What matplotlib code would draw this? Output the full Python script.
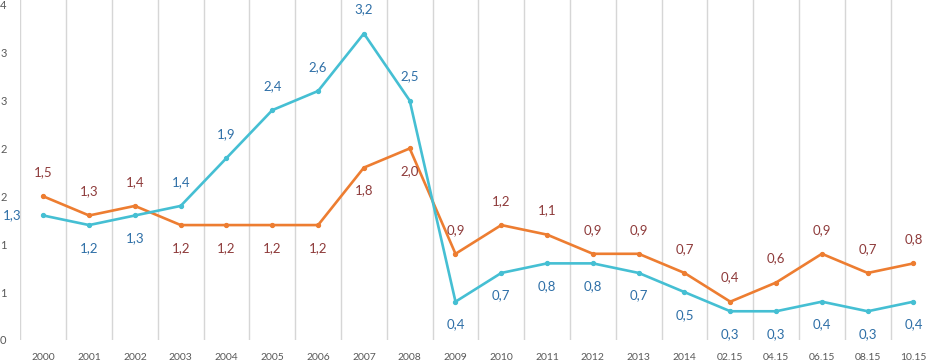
import matplotlib
matplotlib.use("Agg")
import matplotlib.pyplot as plt
from matplotlib.ticker import FixedLocator

categories = ["2000", "2001", "2002", "2003", "2004", "2005", "2006", "2007", "2008", "2009",
              "2010", "2011", "2012", "2013", "2014", "02.15", "04.15", "06.15", "08.15", "10.15"]
orange_vals = [1.5, 1.3, 1.4, 1.2, 1.2, 1.2, 1.2, 1.8, 2.0, 0.9,
               1.2, 1.1, 0.9, 0.9, 0.7, 0.4, 0.6, 0.9, 0.7, 0.8]
cyan_vals = [1.3, 1.2, 1.3, 1.4, 1.9, 2.4, 2.6, 3.2, 2.5, 0.4,
             0.7, 0.8, 0.8, 0.7, 0.5, 0.3, 0.3, 0.4, 0.3, 0.4]
# label positions: 'a' above, 'b' below, 'l' left
orange_pos = ["a", "a", "a", "b", "b", "b", "b", "b", "b", "a",
              "a", "a", "a", "a", "a", "a", "a", "a", "a", "a"]
cyan_pos = ["l", "b", "b", "a", "a", "a", "a", "a", "a", "b",
            "b", "b", "b", "b", "b", "b", "b", "b", "b", "b"]
ytick_vals = [0, 0.5, 1, 1.5, 2, 2.5, 3, 3.5]
ytick_labels = ["0", "1", "1", "2", "2", "3", "3", "4"]

plt.rcParams["font.family"] = ["Lato", "DejaVu Sans"]

W, H = 928, 360
fig = plt.figure(figsize=(W / 100, H / 100), dpi=100)
left_px, right_px = 20.4, 936.4
bottom_px, top_px = 340, 0
ax = fig.add_axes([left_px / W, (H - bottom_px) / H, (right_px - left_px) / W, (bottom_px - top_px) / H])

x = list(range(len(categories)))
ORANGE = "#ED7D31"
CYAN = "#45BFD3"
ORANGE_LBL = "#8E3B3B"
CYAN_LBL = "#2E6FA7"

ax.plot(x, orange_vals, color=ORANGE, lw=1.9, marker="o", ms=2.8, zorder=3)
ax.plot(x, cyan_vals, color=CYAN, lw=1.9, marker="o", ms=2.8, zorder=4)

def fmt(v):
    return f"{v:.1f}".replace(".", ",")

def label(xi, v, pos, col):
    if pos == "a":
        off, ha, va = (0, 13), "center", "bottom"
    elif pos == "b":
        off, ha, va = (0, -12), "center", "top"
    else:
        off, ha, va = (-16, 0), "right", "center"
    ax.annotate(fmt(v), (xi, v), xytext=off, textcoords="offset points",
                ha=ha, va=va, color=col, fontsize=9.5, zorder=5)

for xi, v, p in zip(x, orange_vals, orange_pos):
    label(xi, v, p, ORANGE_LBL)
for xi, v, p in zip(x, cyan_vals, cyan_pos):
    label(xi, v, p, CYAN_LBL)

ax.set_xlim(-0.5, len(categories) - 0.5)
ax.set_ylim(0, 3.55)
ax.set_xticks(x)
ax.set_xticklabels(categories, fontsize=7.5, color="#595959")
ax.xaxis.set_minor_locator(FixedLocator([i - 0.5 for i in range(len(categories) + 1)]))
ax.grid(which="minor", axis="x", color="#D6D6D6", lw=1)
ax.set_yticks(ytick_vals)
ax.set_yticklabels(ytick_labels, fontsize=8, color="#595959")
ax.tick_params(axis="both", which="both", length=0)
ax.tick_params(axis="x", pad=9)
ax.tick_params(axis="y", pad=10)
for s in ax.spines.values():
    s.set_visible(False)

fig.savefig("out.png", dpi=100)
